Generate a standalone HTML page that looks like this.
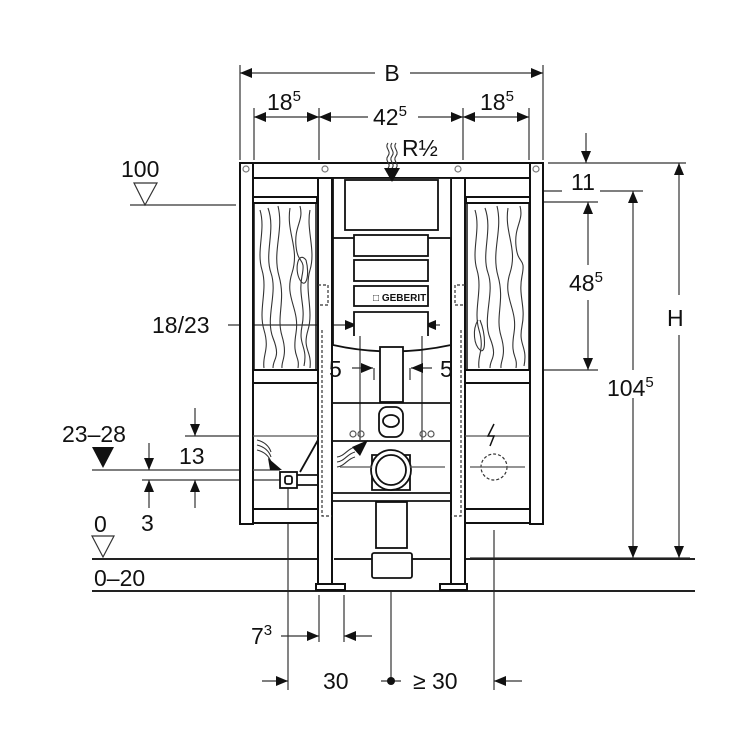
<!DOCTYPE html>
<html><head><meta charset="utf-8"><style>
html,body{margin:0;padding:0;background:#fff}
svg{display:block}
text{font-family:"Liberation Sans",sans-serif;fill:#111}
</style></head><body>
<svg width="750" height="750" viewBox="0 0 750 750" xmlns="http://www.w3.org/2000/svg">
<defs>
<marker id="a" viewBox="0 0 12 10" refX="12" refY="5" markerWidth="12" markerHeight="10" markerUnits="userSpaceOnUse" orient="auto-start-reverse"><path d="M0,0L12,5L0,10Z" fill="#111"/></marker>
</defs>
<g stroke="#333" stroke-width="1.2" fill="none">
<path d="M240,65V160M254,108V160M319,108V160M463,108V160M529,108V160M543,65V160"/>
<path d="M240,73H375" marker-start="url(#a)"/>
<path d="M410,73H543" marker-end="url(#a)"/>
<path d="M254,117H319" marker-start="url(#a)" marker-end="url(#a)"/>
<path d="M319,117H368" marker-start="url(#a)"/>
<path d="M418,117H463" marker-end="url(#a)"/>
<path d="M463,117H529" marker-start="url(#a)" marker-end="url(#a)"/>
<path d="M548,163H686M543,191H562M600,191H643M543,202H598M543,370H598M470,558H690"/>
<path d="M586,133V163" marker-end="url(#a)"/>
<path d="M588,265V202" marker-end="url(#a)"/>
<path d="M588,300V370" marker-end="url(#a)"/>
<path d="M633,370V191" marker-end="url(#a)"/>
<path d="M633,398V558" marker-end="url(#a)"/>
<path d="M679,295V163" marker-end="url(#a)"/>
<path d="M679,335V558" marker-end="url(#a)"/>
<path d="M130,205H236"/>
<path d="M228,325H357" marker-end="url(#a)"/>
<path d="M440,325H424" marker-end="url(#a)"/>
<path d="M360,318V440M422,318V440M374,368V380M410,368V380"/>
<path d="M352,368H373" marker-end="url(#a)"/>
<path d="M432,368H411" marker-end="url(#a)"/>
<path d="M185,436H240M92,470H280M142,480H280"/>
<path d="M195,408V436" marker-end="url(#a)"/>
<path d="M195,508V480" marker-end="url(#a)"/>
<path d="M149,443V470" marker-end="url(#a)"/>
<path d="M149,508V480" marker-end="url(#a)"/>
<path d="M288,488V690M319,595V642M344,595V642M391,590V681M494,530V690"/>
<path d="M281,636H319" marker-end="url(#a)"/>
<path d="M372,636H344" marker-end="url(#a)"/>
<path d="M262,681H288" marker-end="url(#a)"/>
<path d="M522,681H494" marker-end="url(#a)"/>
<path d="M381,681H401"/>
</g>
<circle cx="391" cy="681" r="4" fill="#111"/>
<g stroke="#222" stroke-width="2" fill="none">
<path d="M92,559H318M334,559H372M412,559H450M466,559H695"/>
<path d="M92,591H695"/>
</g>
<path d="M92,536H114L103,557Z" fill="#fff" stroke="#333" stroke-width="1.2"/>
<path d="M134,183H157L145,205Z" fill="#fff" stroke="#333" stroke-width="1.2"/>
<path d="M92,447H114L103,468Z" fill="#111"/>
<g stroke="#111" stroke-width="2" fill="#fff">
<rect x="240" y="163" width="303" height="15"/>
<rect x="240" y="163" width="13" height="361"/>
<rect x="530" y="163" width="13" height="361"/>
<rect x="253" y="509" width="65" height="14"/>
<rect x="465" y="509" width="65" height="14"/>
<rect x="253" y="370" width="65" height="13"/>
<rect x="465" y="370" width="65" height="13"/>
<rect x="318" y="178" width="14" height="410"/>
<rect x="451" y="178" width="14" height="410"/>
<rect x="316" y="584" width="29" height="6"/>
<rect x="440" y="584" width="27" height="6"/>
<rect x="253" y="197" width="64" height="6"/>
<rect x="466" y="197" width="64" height="6"/>
</g>
<g fill="none" stroke="#777" stroke-width="1.2">
<circle cx="246" cy="169" r="3"/><circle cx="536" cy="169" r="3"/><circle cx="325" cy="169" r="3"/><circle cx="458" cy="169" r="3"/>
</g>
<g fill="none" stroke="#333" stroke-width="1.1">
<rect x="254" y="203" width="62" height="167" stroke="#111" stroke-width="1.5"/>
<rect x="467" y="203" width="62" height="167" stroke="#111" stroke-width="1.5"/>
<path d="M260,210c6,20 -4,40 2,60s-4,40 2,60s-2,25 0,38"/>
<path d="M268,208c8,22 -4,45 3,65s-6,45 2,65s0,20 0,30"/>
<path d="M278,206c6,25 -6,45 1,70s-3,40 3,60s-1,25 0,32"/>
<path d="M290,208c-4,25 10,40 2,65s8,35 4,60s4,22 2,35"/>
<path d="M300,206c4,15 -6,20 -4,40s10,10 6,30s4,30 0,50s6,20 2,40"/>
<path d="M306,260c-8,-10 -12,10 -6,20s10,-5 6,-20"/>
<path d="M310,210c-4,20 6,40 0,60s4,40 -2,60s4,20 2,38"/>
<path d="M475,210c6,20 -4,40 2,60s-4,40 2,60s-2,25 0,38"/>
<path d="M485,208c8,22 -4,45 3,65s-6,45 2,65s0,20 0,30"/>
<path d="M497,206c6,25 -6,45 1,70s-3,40 3,60s-1,25 0,32"/>
<path d="M508,208c-4,25 10,40 2,65s8,35 4,60s4,22 2,35"/>
<path d="M520,206c4,15 -6,20 -4,40s10,10 6,30s4,30 0,50s6,20 2,40"/>
<path d="M478,320c-6,10 -4,25 2,30s6,-15 0,-30"/>
</g>
<g stroke="#333" stroke-width="1.2" stroke-dasharray="3,2" fill="none">
<path d="M322,330V516H332M461,330V516H451"/>
<circle cx="391" cy="190" r="6"/>
<circle cx="494" cy="467" r="13"/>
<path d="M318,285h10v20h-10M465,285h-10v20h10"/>
</g>
<g stroke="#111" stroke-width="1.8" fill="#fff">
<rect x="333" y="178" width="118" height="60"/>
<rect x="345" y="180" width="93" height="50"/>
<rect x="354" y="235" width="74" height="21"/>
<rect x="354" y="260" width="74" height="21"/>
<rect x="354" y="286" width="74" height="20"/>
<path d="M354,336V312H428V336"/>
<path d="M333,238V345Q391,358 451,345V238" fill="none"/>
<rect x="380" y="347" width="23" height="55"/>
<path d="M333,403H451M333,441H451M333,493H451M333,501H451" fill="none"/>
<rect x="376" y="502" width="31" height="46"/>
<rect x="372" y="553" width="40" height="25" rx="2"/>
<rect x="379" y="407" width="24" height="30" rx="8"/>
<ellipse cx="391" cy="421" rx="8" ry="6"/>
<path d="M372,455h38v35h-38z"/>
<circle cx="391" cy="470" r="20"/>
<circle cx="391" cy="470" r="15"/>
<rect x="280" y="472" width="17" height="16"/>
<rect x="285" y="476" width="7" height="8" rx="2"/>
<path d="M297,475H318M297,485H318" fill="none"/>
<path d="M300,472L318,440" fill="none"/>
</g>
<g fill="none" stroke="#555" stroke-width="1.2">
<circle cx="353" cy="434" r="3"/><circle cx="361" cy="434" r="3"/><circle cx="423" cy="434" r="3"/><circle cx="431" cy="434" r="3"/>
<path d="M253,436H318M465,436H530M253,470H280M340,467H372M410,467H445M470,467H525"/>
</g>
<text x="373" y="301" font-size="10" font-weight="bold" fill="#333">□ GEBERIT</text>
<g fill="none" stroke="#333" stroke-width="1.1">
<path d="M388,143c-4,5 4,8 0,13s4,8 0,12M392,143c-4,5 4,8 0,13s4,8 0,12M396,143c-4,5 4,8 0,13s4,8 0,12"/>
<path d="M257,440c8,2 12,6 14,12M257,445c8,2 12,6 14,12M257,450c8,2 12,6 14,12"/>
<path d="M337,457c8,-1 10,-8 18,-10M337,462c8,-1 10,-8 18,-10M337,467c8,-1 10,-8 18,-10"/>
</g>
<path d="M384,168H400L392,182Z" fill="#111"/>
<path d="M268,458L282,470L270,470Z" fill="#111"/>
<path d="M352,447L368,440L360,456Z" fill="#111"/>
<path d="M494,424l-6,12h6l-4,10" fill="none" stroke="#111" stroke-width="1.5"/>
<g font-size="23">
<text x="392" y="81" text-anchor="middle">B</text>
<text x="267" y="110">18<tspan font-size="15" dy="-9">5</tspan></text>
<text x="373" y="125">42<tspan font-size="15" dy="-9">5</tspan></text>
<text x="480" y="110">18<tspan font-size="15" dy="-9">5</tspan></text>
<text x="402" y="156">R½</text>
<text x="121" y="177">100</text>
<text x="152" y="333">18/23</text>
<text x="329" y="377">5</text>
<text x="440" y="377">5</text>
<text x="571" y="190">11</text>
<text x="569" y="291">48<tspan font-size="15" dy="-9">5</tspan></text>
<text x="607" y="396">104<tspan font-size="15" dy="-9">5</tspan></text>
<text x="667" y="326">H</text>
<text x="62" y="442">23–28</text>
<text x="179" y="464">13</text>
<text x="141" y="531">3</text>
<text x="94" y="532">0</text>
<text x="94" y="586">0–20</text>
<text x="251" y="644">7<tspan font-size="15" dy="-9">3</tspan></text>
<text x="323" y="689">30</text>
<text x="413" y="689">≥ 30</text>
</g>
</svg>
</body></html>
